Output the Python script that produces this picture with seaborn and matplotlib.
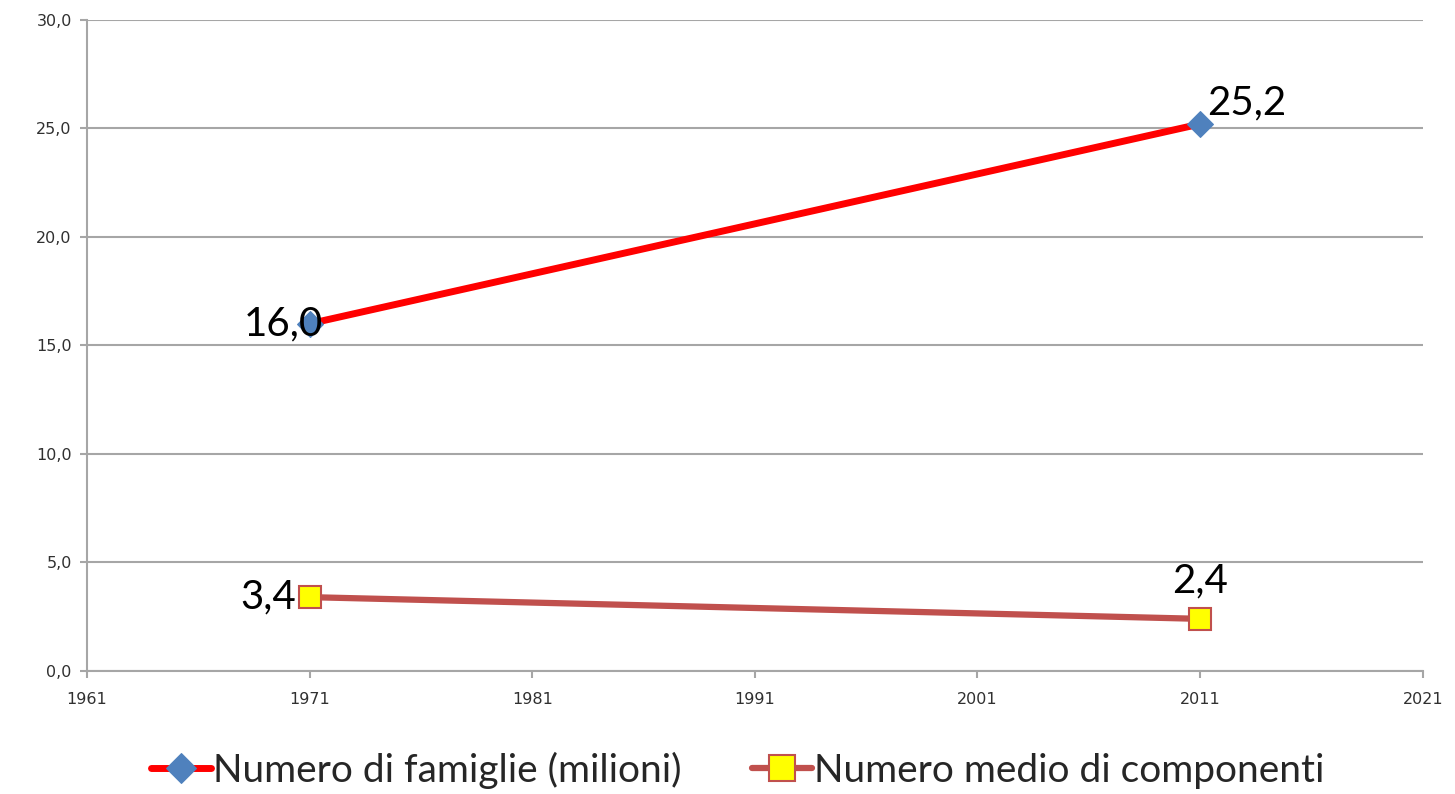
import numpy as np
import pandas as pd
import matplotlib.pyplot as plt
import seaborn as sns

years = [1971, 2011]
famiglie = [16.0, 25.2]
componenti = [3.4, 2.4]
labels = ['Numero di famiglie (milioni)', 'Numero medio di componenti']
x_ticks = [1961, 1971, 1981, 1991, 2001, 2011, 2021]
y_ticks = [0, 5, 10, 15, 20, 25, 30]


def fmt(v):
    return f'{v:.1f}'.replace('.', ',')


sns.set_style('white')
plt.rcParams['font.family'] = ['DejaVu Sans']

fig = plt.figure(figsize=(14.55, 7.94), dpi=100)
ax = fig.add_axes([0.0598, 0.155, 0.918, 0.82])

grid_c = '#A6A6A6'

sns.lineplot(x=years, y=famiglie, ax=ax, color='#FF0000', linewidth=5,
             marker='D', markersize=13, markerfacecolor='#4F81BD',
             markeredgecolor='#4F81BD', label=labels[0], zorder=3)
sns.lineplot(x=years, y=componenti, ax=ax, color='#C0504D', linewidth=4.5,
             marker='s', markersize=16, markerfacecolor='#FFFF00',
             markeredgecolor='#C0504D', markeredgewidth=1.5,
             label=labels[1], zorder=3)

ax.set_xlim(1961, 2021)
ax.set_ylim(0, 30)
ax.set_xticks(x_ticks)
ax.set_yticks(y_ticks)
ax.set_yticklabels([fmt(v) for v in y_ticks])
ax.tick_params(axis='both', labelsize=11.5, length=5, width=1.5,
               direction='out', left=True, bottom=True,
               colors=grid_c, labelcolor='#303030')
ax.tick_params(axis='y', pad=6)
ax.tick_params(axis='x', pad=10)
ax.yaxis.grid(True, color=grid_c, linewidth=1.5)
ax.set_xlabel('')
ax.set_ylabel('')
ax.spines['top'].set_visible(False)
ax.spines['right'].set_visible(False)
for s in ['left', 'bottom']:
    ax.spines[s].set_color(grid_c)
    ax.spines[s].set_linewidth(1.5)

lab_font = dict(fontsize=29, family=['Lato', 'DejaVu Sans'], color='black')
ax.text(years[0] + 0.6, famiglie[0], fmt(famiglie[0]), ha='right', va='center', **lab_font)
ax.text(years[1] + 0.3, famiglie[1] + 0.1, fmt(famiglie[1]), ha='left', va='bottom', **lab_font)
ax.text(years[0] - 0.6, componenti[0], fmt(componenti[0]), ha='right', va='center', **lab_font)
ax.text(years[1], componenti[1] + 0.9, fmt(componenti[1]), ha='center', va='bottom', **lab_font)

ax.legend(loc='upper center', bbox_to_anchor=(0.487, -0.07), ncol=2, frameon=False,
          prop={'family': ['Lato', 'DejaVu Sans'], 'size': 28},
          handlelength=1.55, handletextpad=0.05, columnspacing=1.8,
          markerscale=1.15)

fig.savefig('out.png', dpi=100)
